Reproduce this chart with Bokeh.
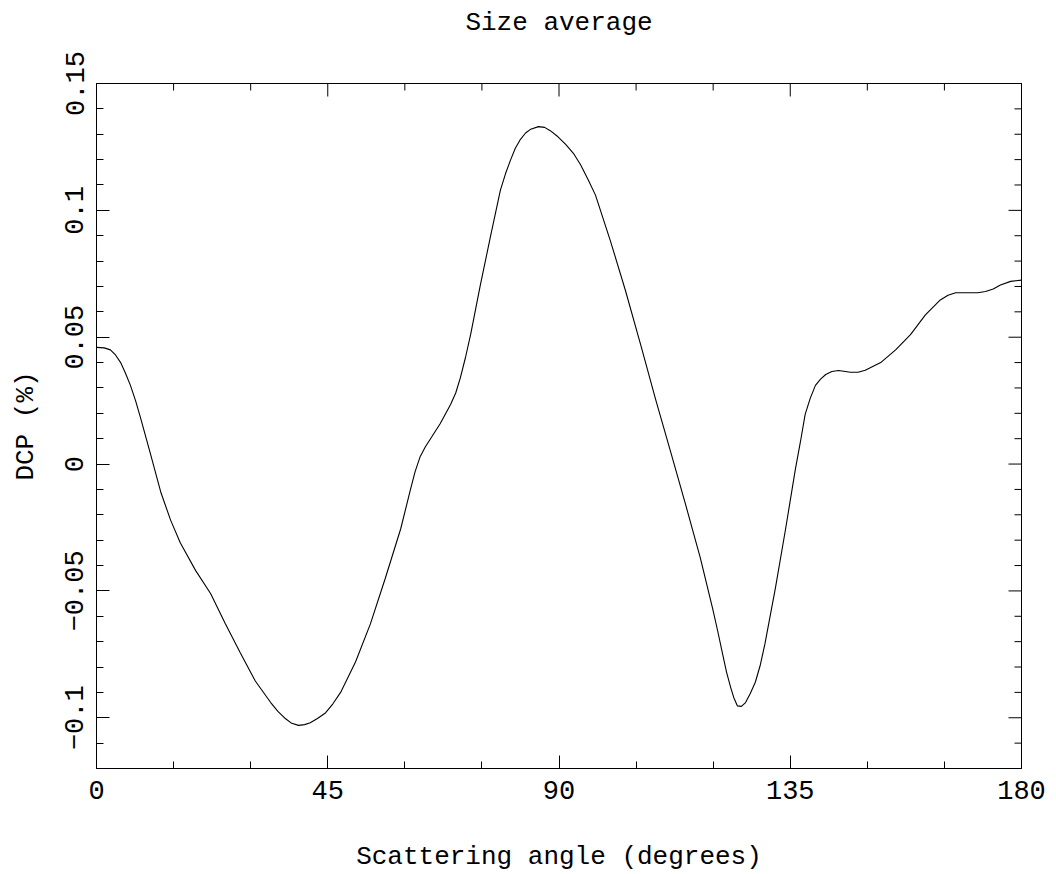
import math
from bokeh.plotting import figure
from bokeh.models import Range1d, FixedTicker, LinearAxis
from bokeh.embed import file_html
from bokeh.resources import INLINE

# ---- data ----
angle = [0, 1.5, 2.7, 3.7, 4.7, 5.6, 6.6, 7.6, 8.6, 10.5,
         12.5, 14.4, 16.3, 19.3, 22.2, 25.1, 28.0, 30.9, 33.9, 35.3,
         36.8, 38.0, 39.3, 40.5, 41.6, 43.0, 44.6, 46.0, 47.5, 50.4,
         53.3, 56.2, 59.2, 61.1, 62.0, 63.0, 64.0, 65.0, 66.9, 68.9,
         69.9, 70.8, 71.8, 72.8, 74.7, 76.7, 78.6, 79.6, 80.6, 81.5,
         82.5, 83.5, 84.5, 86.0, 87.2, 88.3, 89.8, 91.3, 92.8, 94.2,
         95.7, 97.1, 100.0, 102.9, 105.9, 108.8, 111.7, 114.6, 117.5, 119.9,
         120.9, 121.8, 122.6, 123.4, 124.0, 124.7, 125.5, 126.3, 127.2, 128.2,
         129.2, 130.1, 132.1, 134.1, 136.0, 137.0, 137.9, 138.9, 139.9, 140.9,
         141.9, 143.1, 144.4, 146.7, 148.2, 149.6, 152.6, 155.5, 158.4, 161.3,
         164.2, 165.7, 167.2, 170.1, 171.5, 173.0, 174.5, 175.9, 177.9, 180]
dcp = [0.046, 0.0458, 0.045, 0.043, 0.040, 0.036, 0.031, 0.025, 0.018, 0.004,
       -0.011, -0.022, -0.031, -0.042, -0.051, -0.063, -0.0745, -0.0855, -0.094, -0.0975,
       -0.1004, -0.1022, -0.103, -0.1027, -0.102, -0.1003, -0.098, -0.0945, -0.090, -0.078,
       -0.063, -0.045, -0.0255, -0.010, -0.003, 0.003, 0.0068, 0.010, 0.016, 0.0235,
       0.028, 0.034, 0.042, 0.051, 0.0706, 0.090, 0.108, 0.1145, 0.120, 0.1245,
       0.128, 0.1305, 0.132, 0.133, 0.1327, 0.1314, 0.129, 0.126, 0.1225, 0.118,
       0.112, 0.106, 0.088, 0.0686, 0.047, 0.0255, 0.005, -0.0157, -0.037, -0.057,
       -0.066, -0.0745, -0.082, -0.088, -0.092, -0.0953, -0.0955, -0.094, -0.0905, -0.086,
       -0.079, -0.0706, -0.049, -0.0255, -0.002, 0.009, 0.0196, 0.026, 0.031, 0.0335,
       0.0353, 0.0365, 0.0369, 0.0362, 0.0362, 0.037, 0.040, 0.045, 0.051, 0.0588,
       0.0647, 0.0665, 0.0675, 0.0675, 0.0675, 0.068, 0.069, 0.0706, 0.072, 0.0725]

x_major = [0, 45, 90, 135, 180]
x_minor = [15, 30, 60, 75, 105, 120, 150, 165]
y_major = [-0.1, -0.05, 0, 0.05, 0.1, 0.15]
y_major_labels = ["\u22120.1", "\u22120.05", "0", "0.05", "0.1", "0.15"]
y_minor = [-0.11, -0.09, -0.08, -0.07, -0.06, -0.04, -0.03, -0.02, -0.01,
           0.01, 0.02, 0.03, 0.04, 0.06, 0.07, 0.08, 0.09, 0.11, 0.12, 0.13, 0.14]

title_text = "Size average"
x_label = "Scattering angle (degrees)"
y_label = "DCP (%)"

FONT = "Liberation Mono"
MAJOR_LEN = 13
MINOR_LEN = 7

xr = Range1d(0, 180)
yr = Range1d(-0.12, 0.15)

p = figure(width=1056, height=874, output_backend="svg", toolbar_location=None,
           x_range=xr, y_range=yr,
           x_axis_location=None, y_axis_location=None,
           min_border_left=96, min_border_right=35, min_border_top=83, min_border_bottom=104)
p.background_fill_color = "white"
p.border_fill_color = "white"
p.outline_line_color = "black"
p.outline_line_width = 1
p.xgrid.visible = False
p.ygrid.visible = False

xt = FixedTicker(ticks=x_major, minor_ticks=x_minor)
yt = FixedTicker(ticks=y_major, minor_ticks=y_minor)


def style(ax):
    ax.axis_line_color = "black"
    ax.axis_line_width = 1
    ax.major_tick_in = MAJOR_LEN
    ax.major_tick_out = 0
    ax.minor_tick_in = MINOR_LEN
    ax.minor_tick_out = 0
    ax.major_tick_line_color = "black"
    ax.minor_tick_line_color = "black"
    ax.major_label_text_font = FONT
    ax.major_label_text_color = "black"
    ax.major_label_text_font_size = "27px"
    ax.axis_label_text_font = FONT
    ax.axis_label_text_font_style = "normal"
    ax.axis_label_text_color = "black"
    ax.axis_label_text_font_size = "26px"


bottom = LinearAxis(ticker=xt, axis_label=x_label)
style(bottom)
bottom.major_label_standoff = 12
bottom.axis_label_standoff = 40
p.add_layout(bottom, "below")

left = LinearAxis(ticker=yt, axis_label=y_label)
style(left)
left.major_label_overrides = {v: s for v, s in zip(y_major, y_major_labels)}
left.major_label_orientation = "vertical"
left.major_label_standoff = 13
left.axis_label_standoff = 22
p.add_layout(left, "left")

# title: carried by a tick-less axis above the frame so it can sit near the page top
top = LinearAxis(ticker=FixedTicker(ticks=[], minor_ticks=[]), axis_label=title_text)
style(top)
top.axis_label_standoff = 46
p.add_layout(top, "above")

# inward ticks on the top and right edges (dash markers clipped by the frame)
top_y = yr.end
right_x = xr.end
p.scatter(x_major, [top_y] * len(x_major), marker="dash", size=2 * MAJOR_LEN,
          angle=math.pi / 2, line_color="black", line_width=1)
p.scatter(x_minor, [top_y] * len(x_minor), marker="dash", size=2 * MINOR_LEN,
          angle=math.pi / 2, line_color="black", line_width=1)
p.scatter([right_x] * len(y_major), y_major, marker="dash", size=2 * MAJOR_LEN,
          line_color="black", line_width=1)
p.scatter([right_x] * len(y_minor), y_minor, marker="dash", size=2 * MINOR_LEN,
          line_color="black", line_width=1)

p.line(angle, dcp, line_color="black", line_width=1.1)

open("out.html", "w").write(file_html(p, INLINE))
